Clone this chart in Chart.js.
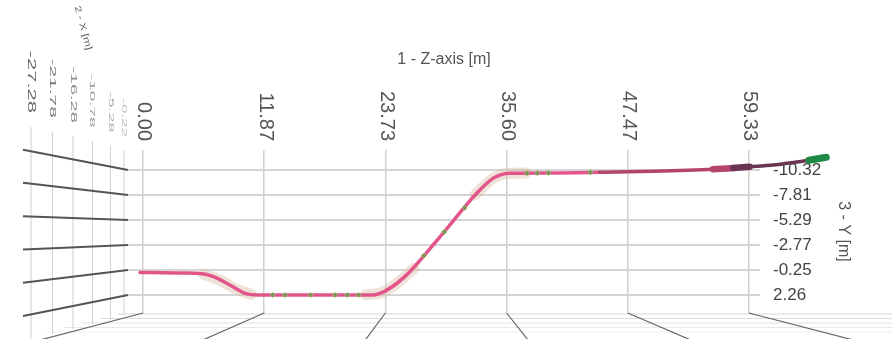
<!DOCTYPE html>
<html>
<head>
<meta charset="utf-8">
<script src="https://cdn.jsdelivr.net/npm/chart.js@4.4.1/dist/chart.umd.min.js"></script>
<style>
  html, body { margin: 0; padding: 0; background: #fff; }
</style>
</head>
<body>
<canvas id="chart" width="892" height="339"></canvas>
<script>
// axis ticks
const xTicks = [0, 11.87, 23.73, 35.60, 47.47, 59.33];
const yTicks = [-10.32, -7.81, -5.29, -2.77, -0.25, 2.26];
const wallTicks = [-27.28, -21.78, -16.28, -10.78, -5.28, -0.22];

// trajectory, Z along the run and Y height
const pathZ = [-0.3, 2, 4, 5.6, 6.9, 8.5, 10.0, 11.2, 15, 20, 22.4, 23.5, 24.9, 26.1, 29.4, 32.7, 34.3, 35.9, 40, 44.7, 50, 55.8, 57.8, 59.4, 61.7, 66.0];
const pathY = [0.0, 0.02, 0.05, 0.1, 0.42, 1.25, 2.09, 2.26, 2.26, 2.26, 2.26, 1.96, 1.05, -0.05, -4.0, -8.0, -9.5, -9.99, -10.02, -10.09, -10.2, -10.4, -10.52, -10.64, -10.82, -11.4];

// spread around the bends
const haloZ = [6.0, 7.5, 9.0, 10.6, 15, 21.8, 23.5, 24.9, 26.5, 30, 32.5, 34.3, 35.9, 37.5];
const haloY = [0.2, 0.75, 1.6, 2.2, null, 2.26, 1.96, 1.05, -0.4, null, -7.8, -9.5, -9.99, -10.02];

// green samples along the run
const markZ = [12.7, 13.9, 16.4, 18.8, 20.0, 21.1, 27.5, 29.5, 31.5, 37.6, 38.6, 39.7, 43.8];
const markY = [2.26, 2.26, 2.26, 2.26, 2.26, 2.26, -1.7, -4.1, -6.5, -10.0, -10.01, -10.03, -10.08];

// end heading (short thick stroke)
const arrowZ = [65.2, 66.9];
const arrowY = [-11.3, -11.6];

const toPoints = (zs, ys) => zs.map((z, i) => ({x: z, y: ys[i]}));

Chart.defaults.font.family = "'Liberation Sans', Arial, sans-serif";

function wallDepth(v) {
    const near = wallTicks[wallTicks.length - 1];
    return (v - near) / (wallTicks[0] - near);
}
function wallX(t, a) {
    return a.left - 4 - 93 * Math.pow(t, 1.15);
}

const perspectivePlugin = {
    id: 'perspective',
    beforeDatasetsDraw(chart) {
        const {ctx, chartArea: a, scales: {x, y}} = chart;
        const midY = (a.top + a.bottom) / 2;
        const midX = (a.left + a.right) / 2;
        ctx.save();

        // floor
        ctx.lineWidth = 1;
        for (let i = 0; i < 5; i++) {
            ctx.strokeStyle = 'rgba(205,205,205,' + (0.8 - i * 0.12) + ')';
            const fy = a.bottom + 1 + i * 4.5;
            ctx.beginPath();
            ctx.moveTo(a.left - 10 - i * 18, fy);
            ctx.lineTo(chart.width, fy);
            ctx.stroke();
        }
        ctx.strokeStyle = '#666';
        ctx.lineWidth = 1.2;
        xTicks.forEach(v => {
            const px = x.getPixelForValue(v);
            ctx.beginPath();
            ctx.moveTo(px, a.bottom);
            ctx.lineTo(px + (px - midX) * 0.38, a.bottom + 30);
            ctx.stroke();
        });

        // left wall
        ctx.lineWidth = 1;
        ctx.strokeStyle = '#cfcfcf';
        wallTicks.forEach(v => {
            const t = wallDepth(v);
            const wx = wallX(t, a);
            ctx.beginPath();
            ctx.moveTo(wx, a.top - 23 * t);
            ctx.lineTo(wx, a.bottom + 2 + 24 * t);
            ctx.stroke();
        });
        ctx.strokeStyle = '#555';
        ctx.lineWidth = 2;
        yTicks.forEach(v => {
            const py = y.getPixelForValue(v);
            ctx.beginPath();
            ctx.moveTo(a.left - 105, midY + 1.33 * (py - midY));
            ctx.lineTo(a.left, py);
            ctx.stroke();
        });
        ctx.restore();
    },
    afterDraw(chart) {
        const {ctx, chartArea: a, scales: {x}} = chart;
        ctx.save();

        // Z tick labels, turned to read downward
        ctx.fillStyle = '#555';
        ctx.font = "20px 'Liberation Sans', Arial, sans-serif";
        ctx.textAlign = 'right';
        ctx.textBaseline = 'middle';
        xTicks.forEach(v => {
            ctx.save();
            ctx.translate(x.getPixelForValue(v) + 1, a.top - 9);
            ctx.rotate(Math.PI / 2);
            ctx.fillText(v.toFixed(2), 0, 0);
            ctx.restore();
        });

        // X depth labels on the wall
        wallTicks.forEach(v => {
            const t = wallDepth(v);
            ctx.save();
            ctx.translate(wallX(t, a), a.top - 13 - 24 * t);
            ctx.rotate(Math.PI / 2);
            ctx.scale(1, 0.38 + 0.1 * t);
            ctx.font = (17 + 5 * t) + "px 'Liberation Sans', Arial, sans-serif";
            ctx.fillStyle = 'rgba(85,85,85,' + (0.4 + 0.5 * t) + ')';
            ctx.fillText(v.toFixed(2), 0, 0);
            ctx.restore();
        });

        ctx.save();
        ctx.translate(83, 28);
        ctx.rotate(1.3);
        ctx.scale(1, 0.75);
        ctx.font = "12px 'Liberation Sans', Arial, sans-serif";
        ctx.fillStyle = '#666';
        ctx.textAlign = 'center';
        ctx.fillText('2 - X [m]', 0, 0);
        ctx.restore();

        ctx.restore();
    }
};

new Chart(document.getElementById('chart'), {
    type: 'line',
    data: {
        datasets: [{
            data: toPoints(arrowZ, arrowY),
            borderColor: '#1e8a46',
            borderWidth: 7,
            borderCapStyle: 'round',
            pointRadius: 0,
            clip: false,
            order: 1
        }, {
            data: toPoints(markZ, markY),
            showLine: false,
            pointStyle: 'rectRot',
            pointRadius: 2.6,
            backgroundColor: 'rgba(105,155,70,0.85)',
            borderColor: 'rgba(150,190,120,0.8)',
            borderWidth: 1,
            order: 2
        }, {
            data: toPoints(pathZ, pathY),
            borderColor: '#e2558a',
            borderWidth: 3.5,
            borderCapStyle: 'round',
            cubicInterpolationMode: 'monotone',
            pointRadius: 0,
            clip: false,
            segment: {
                borderColor: c => {
                    const z = c.p0.parsed.x;
                    return z >= 57.8 ? '#6b3550' : z >= 44 ? '#b4446c' : '#e2558a';
                },
                borderWidth: c => (c.p0.parsed.x >= 55.8 && c.p0.parsed.x < 59.4) ? 6.5 : 3.5
            },
            order: 3
        }, {
            data: toPoints(haloZ, haloY),
            borderColor: 'rgba(212,182,160,0.4)',
            borderWidth: 11,
            borderCapStyle: 'round',
            cubicInterpolationMode: 'monotone',
            spanGaps: false,
            pointRadius: 0,
            order: 4
        }]
    },
    options: {
        responsive: false,
        animation: false,
        layout: { padding: { left: 128, bottom: 26, top: 0, right: 0 } },
        plugins: { legend: { display: false }, tooltip: { enabled: false } },
        scales: {
            x: {
                type: 'linear',
                position: 'top',
                bounds: 'data',
                // range set here so points past the right edge are still drawn
                afterDataLimits: s => { s.min = -1.47; s.max = 60.41; },
                afterBuildTicks: s => { s.ticks = xTicks.map(v => ({value: v})); },
                afterFit: s => { s.height = 150; },
                ticks: { display: false },
                grid: { color: '#d0d0d0', lineWidth: 1.5, drawTicks: false },
                border: { display: false },
                title: {
                    display: true,
                    text: '1 - Z-axis [m]',
                    color: '#555',
                    font: { size: 16 },
                    padding: { top: 50, bottom: 0 }
                }
            },
            y: {
                type: 'linear',
                position: 'right',
                reverse: true,
                min: -12.33,
                max: 4.07,
                afterBuildTicks: s => { s.ticks = yTicks.map(v => ({value: v})); },
                afterFit: s => { s.width = 132; },
                ticks: {
                    color: '#444',
                    font: { size: 17 },
                    padding: 13,
                    callback: v => v.toFixed(2)
                },
                grid: { color: '#d5d5d5', lineWidth: 2, drawTicks: false },
                border: { display: false },
                title: {
                    display: true,
                    text: '3 - Y [m]',
                    color: '#555',
                    font: { size: 16 },
                    padding: { top: 39, bottom: 0 }
                }
            }
        }
    },
    plugins: [perspectivePlugin]
});
</script>
</body>
</html>
